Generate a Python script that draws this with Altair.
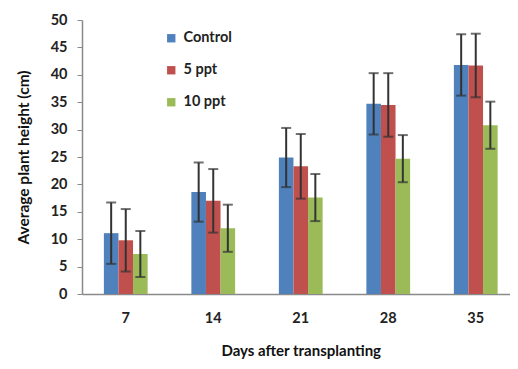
import altair as alt
import pandas as pd

days = ["7", "14", "21", "28", "35"]
series = ["Control", "5 ppt", "10 ppt"]
colors = ["#4F81BD", "#C0504D", "#9BBB59"]

control_mean = [11.1, 18.6, 24.9, 34.7, 41.8]
control_err = [5.6, 5.4, 5.4, 5.6, 5.6]
ppt5_mean = [9.8, 17.0, 23.3, 34.5, 41.7]
ppt5_err = [5.7, 5.8, 5.9, 5.8, 5.8]
ppt10_mean = [7.3, 12.0, 17.6, 24.7, 30.8]
ppt10_err = [4.2, 4.3, 4.3, 4.3, 4.3]

rows = []
for s, means, errs in zip(series,
                          [control_mean, ppt5_mean, ppt10_mean],
                          [control_err, ppt5_err, ppt10_err]):
    for d, m, e in zip(days, means, errs):
        rows.append({"day": d, "series": s, "mean": m, "lo": m - e, "hi": m + e})
df = pd.DataFrame(rows)

FONT = "Lato"
TXT = "#222222"
Y_TITLE = "Average plant height (cm)"

x = alt.X(
    "day:N", sort=days, title="Days after transplanting",
    scale=alt.Scale(range=[0, 437.5], paddingInner=0.5, paddingOuter=0.25),
    axis=alt.Axis(labelAngle=0, ticks=False, labelPadding=17, labelFontSize=14.5,
                  labelFontWeight="bold", labelColor=TXT, titleFontSize=15,
                  titleFontWeight="bold", titleColor="#111", titlePadding=19,
                  domainColor="#8a8a8a", domainWidth=1.5),
)
xo = alt.XOffset("series:N", sort=series,
                 scale=alt.Scale(domain=series, paddingInner=0, paddingOuter=0))
y_axis = alt.Axis(values=list(range(0, 51, 5)), tickSize=5, tickColor="#8a8a8a",
                  labelPadding=10, labelFontSize=14.5, labelFontWeight="bold",
                  labelColor=TXT, labelOverlap=False, titleFontSize=15.5,
                  titleFontWeight="bold", titleColor="#111", titlePadding=19,
                  domainColor="#8a8a8a", domainWidth=1.5, grid=False)
y_scale = alt.Scale(domain=[0, 50], nice=False)


def yenc(field):
    return alt.Y(field, title=Y_TITLE, scale=y_scale, axis=y_axis)


bars = alt.Chart(df).mark_bar().encode(
    x=x, xOffset=xo,
    y=yenc("mean:Q"),
    color=alt.Color("series:N", sort=series,
                    scale=alt.Scale(domain=series, range=colors),
                    legend=alt.Legend(title=None, orient="none", legendX=82, legendY=11,
                                      symbolType="square", symbolSize=70,
                                      symbolStrokeWidth=0, labelFontSize=14.5,
                                      labelFontWeight="bold", labelColor=TXT,
                                      labelFont=FONT, rowPadding=17, padding=0,
                                      labelOffset=5)),
)

rules = alt.Chart(df).mark_rule(color="#333333", strokeWidth=2).encode(
    x=x, xOffset=xo, y=yenc("lo:Q"), y2="hi:Q")
caps_hi = alt.Chart(df).mark_tick(color="#333333", thickness=2, size=10).encode(
    x=x, xOffset=xo, y=yenc("hi:Q"))
caps_lo = alt.Chart(df).mark_tick(color="#333333", thickness=2, size=10).encode(
    x=x, xOffset=xo, y=yenc("lo:Q"))

chart = alt.layer(bars, rules, caps_hi, caps_lo).properties(
    width=428, height=274,
    autosize=alt.AutoSizeParams(type="none"),
    padding={"left": 74, "top": 12, "right": 0, "bottom": 65},
).configure(font=FONT).configure_view(stroke=None)

chart.save("out.html", embed_options={"renderer": "svg", "actions": False})
